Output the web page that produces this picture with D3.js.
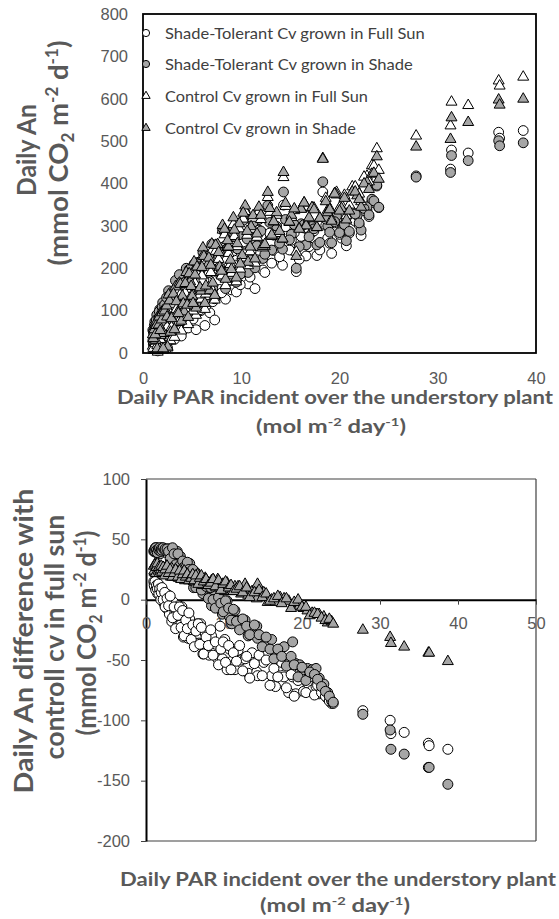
<!DOCTYPE html>
<html>
<head>
<meta charset="utf-8">
<script src="https://d3js.org/d3.v7.min.js"></script>
<style>
    body { margin: 0; background: #fff; }
    .tick text { font-family: "Liberation Sans", Arial, sans-serif; font-size: 16.5px; fill: #595959; }
    .title { font-family: Lato, "Open Sans", sans-serif; font-weight: bold; fill: #595959; }
    .legend text { font-family: Lato, "Open Sans", sans-serif; fill: #404040; }
</style>
</head>
<body>
<svg id="chart" width="559" height="919"></svg>
<script>
// daily PAR incident over the understory plant (mol m-2 day-1), one value per day
const par = [1.0,1.1,1.2,1.3,1.4,1.5,1.7,1.8,2.0,2.1, 2.3,2.5,2.6,2.8,3.0,3.2,3.3,3.5,3.7,3.9,
    4.0,4.2,4.4,4.6,4.8,5.0,5.2,5.4,5.6,5.9, 6.1,6.3,6.6,6.8,7.0,7.3,7.6,7.8,8.1,8.4,
    8.7,9.0,9.2,9.5,9.8,10.1,10.4,10.7,11.0,11.4, 11.8,12.2,12.7,13.1,13.6,14.2,14.3,15.1,15.6,16.1,
    16.6,17.2,17.7,18.3,18.8,19.2,19.7,20.2,20.7,21.3, 21.8,22.2,22.8,23.3,23.8,
    1.05,1.15,1.25,1.35,1.45,1.6,1.65,1.75,1.9,1.95, 2.05,2.2,2.4,2.45,2.7,2.9,3.1,3.4,3.6,3.8,
    4.1,4.3,4.5,4.7,4.9,5.1,5.3,5.5,5.8,6.0, 6.2,6.4,6.7,6.9,7.1,7.4,7.7,8.0,8.3,8.6,
    8.9,9.3,9.6,9.9,10.2,10.6,10.9,11.2,11.6,12.0, 12.4,12.9,13.3,13.9,14.5,14.9,15.4,15.9,16.4,16.9,
    17.4,18.0,18.6,19.0,19.5,20.0,20.5,21.0,21.6,22.0, 22.5,23.0,23.5,24.0,
    27.8,31.3,31.4,33.1,36.2,36.3,38.7];

// daily An (mmol CO2 m-2 d-1)
const anStSun = [29,15,46,15,61,5,73,21,76,26, 71,12,101,31,88,32,111,71,134,40,
    88,73,143,59,115,103,168,55,168,100, 203,65,167,95,219,78,209,150,242,127,
    194,149,252,144,242,189,274,163,239,152, 290,196,316,212,279,207,349,266,192,275,
    229,285,230,380,271,235,316,271,253,315, 310,277,337,358,394,
    21,40,28,49,25,54,62,39,52,72, 15,71,96,53,95,53,116,86,64,112,
    83,133,72,156,102,80,138,175,102,159, 172,111,190,151,121,193,188,142,252,201,
    172,219,208,161,262,238,179,272,220,275, 190,283,242,227,298,243,284,221,295,251,
    288,243,301,259,307,280,293,283,311,302, 336,322,355,343,
    418,434,479,472,521,507,525];
const anStShade = [54,44,74,44,90,20,103,54,119,60, 116,40,147,69,142,70,171,103,185,80,
    150,101,200,93,169,148,210,113,214,142, 237,124,202,141,257,128,249,203,290,152,
    241,186,295,167,279,217,331,190,270,201, 315,223,348,243,299,245,380,280,200,305,
    255,299,255,404,300,260,323,289,265,332, 325,290,345,363,396,
    50,65,63,78,55,83,98,73,92,108, 46,114,131,101,136,98,147,144,108,165,
    134,167,117,197,159,118,193,211,151,205, 227,147,229,202,152,255,230,181,287,247,
    200,275,246,186,313,269,220,308,253,288, 233,308,278,259,315,267,303,251,303,274,
    293,261,316,285,310,284,303,287,328,307, 341,326,359,344,
    415,426,466,454,501,489,496];
const anCtrlSun = [14,4,31,5,47,0,63,16,76,18, 74,10,108,27,100,35,129,73,145,50,
    110,78,164,65,146,117,192,87,184,125, 227,101,187,131,239,123,237,188,288,157,
    233,186,301,166,291,222,332,204,290,210, 332,246,365,273,323,267,412,318,236,338,
    301,340,294,457,335,313,377,347,322,390, 382,355,415,440,480,
    9,25,20,37,16,41,57,30,52,66, 5,71,90,59,94,58,113,101,70,136,
    96,139,95,165,132,97,162,186,135,180, 211,137,210,188,144,238,219,180,277,247,
    207,273,249,196,314,276,237,316,271,313, 249,330,307,280,344,306,334,292,352,315,
    340,316,363,339,374,340,370,347,390,373, 413,402,439,429,
    510,534,590,582,640,628,649];
const anCtrlShade = [41,26,60,28,73,4,90,39,97,44, 99,12,135,47,123,53,154,93,163,73,
    132,95,188,82,166,132,213,104,199,144, 246,115,207,145,255,134,254,201,299,172,
    248,195,317,175,303,228,345,212,296,220, 342,250,377,276,329,267,424,323,226,337,
    298,341,294,455,329,309,371,339,312,378, 369,342,400,420,461,
    32,53,41,63,8,64,83,51,76,93, 8,97,109,83,121,79,137,119,91,160,
    114,162,111,185,155,115,182,201,152,200, 226,156,222,205,163,252,235,191,290,263,
    217,288,256,208,328,285,248,322,279,323, 254,339,308,285,351,307,338,290,352,317,
    336,316,355,336,373,333,363,333,378,360, 397,384,422,408,
    484,502,553,542,595,583,597];

// daily An difference with control cv in full sun
const diffStSun = [15,11,15,10,14,5,10,5,0,8, -3,5,-7,4,-12,-3,-18,-2,-11,-10,
    -22,-5,-21,-6,-31,-14,-24,-32,-16,-25, -24,-36,-20,-36,-20,-45,-28,-38,-46,-30,
    -39,-37,-49,-22,-49,-33,-58,-41,-51,-58, -42,-50,-49,-61,-44,-60,-63,-52,-44,-63,
    -72,-55,-64,-77,-64,-78,-61,-76,-69,-75, -72,-78,-78,-82,-86,
    12,15,8,12,9,13,5,9,0,6, 10,0,6,-6,1,-5,3,-15,-6,-24,
    -13,-6,-23,-9,-30,-17,-24,-11,-33,-21, -39,-26,-20,-37,-23,-45,-31,-38,-25,-46,
    -35,-54,-41,-35,-52,-38,-58,-44,-51,-38, -59,-47,-65,-53,-46,-63,-50,-71,-57,-64,
    -52,-73,-62,-80,-67,-60,-77,-64,-79,-71, -77,-80,-84,-86,
    -92,-100,-111,-110,-119,-121,-124];
const diffStShade = [40,40,43,39,43,41,40,38,43,42, 42,41,39,42,42,35,42,30,40,30,
    40,23,36,28,23,31,18,26,30,17, 10,23,15,10,18,5,12,15,2,-5,
    8,0,-6,1,-12,-5,-1,-14,-20,-9, -17,-23,-17,-30,-24,-22,-32,-38,-36,-33,
    -46,-41,-39,-53,-35,-53,-54,-58,-57,-58, -57,-65,-70,-77,-84,
    41,40,43,41,39,42,41,43,40,42, 41,43,41,42,42,40,34,43,38,29,
    38,28,22,32,27,21,31,25,16,25, 16,10,19,14,8,17,11,1,10,0,
    -7,2,-3,-10,-1,-7,-17,-8,-18,-25, -16,-22,-29,-21,-29,-39,-31,-41,-49,-41,
    -47,-55,-47,-54,-64,-56,-67,-60,-62,-66, -72,-76,-80,-85,
    -95,-108,-124,-128,-139,-139,-153];
const diffCtrlShade = [27,22,29,23,26,21,27,23,21,26, 25,20,27,20,23,18,25,20,18,23,
    22,17,24,17,20,15,21,17,15,19, 19,14,20,14,16,11,17,13,11,15,
    15,9,16,9,12,6,13,8,6,10, 10,4,12,3,6,0,12,5,-3,-1,
    -3,1,0,-2,-6,-4,-6,-8,-10,-12, -13,-13,-15,-20,-19,
    23,28,21,26,29,23,26,21,24,27, 22,26,19,24,27,21,24,18,21,24,
    18,23,16,20,23,18,20,15,17,20, 15,19,12,17,19,14,16,11,13,16,
    10,15,7,12,14,9,11,6,8,10, 5,9,1,5,7,1,4,-2,0,2,
    -4,0,-8,-3,-1,-7,-7,-14,-12,-13, -16,-18,-17,-21,
    -26,-32,-37,-40,-45,-45,-52];

const legendLabels = ["Shade-Tolerant Cv grown in Full Sun", "Shade-Tolerant Cv grown in Shade",
    "Control Cv grown in Full Sun", "Control Cv grown in Shade"];
const topXTicks = [0, 10, 20, 30, 40];
const topYTicks = [0, 100, 200, 300, 400, 500, 600, 700, 800];
const botXTicks = [0, 10, 20, 30, 40, 50];
const botYTicks = [-200, -150, -100, -50, 0, 50, 100];

const GREY = "#a6a6a6";
const svg = d3.select("#chart");

// text with super/subscripts: parts = [[string, "sup"|"sub"|null], ...]
function richText(parent, parts, size) {
    const t = parent.append("text").attr("class", "title")
        .attr("text-anchor", "middle").style("font-size", size + "px");
    let shift = 0;
    parts.forEach(([s, kind]) => {
        const want = kind === "sup" ? -size * 0.38 : kind === "sub" ? size * 0.22 : 0;
        t.append("tspan").attr("dy", want - shift)
            .style("font-size", kind ? (size * 0.62) + "px" : null)
            .text(s);
        shift = want;
    });
    return t;
}

function place(t, x, y, rot, width, ky = 1) {
    let k = 1;
    if (width) k = width / t.node().getComputedTextLength();
    t.attr("transform", `translate(${x},${y}) rotate(${rot}) scale(${k},${ky})`);
}

function drawSeries(g, x, y, ys, shape, filled, size) {
    const pts = par.map((p, i) => [p, ys[i]]);
    const fill = filled ? GREY : "#fff";
    if (shape === "circle") {
        g.append("g").selectAll("circle").data(pts).join("circle")
            .attr("cx", d => x(d[0])).attr("cy", d => y(d[1]))
            .attr("r", size).attr("fill", fill).attr("stroke", "#000").attr("stroke-width", 1);
    } else {
        const tri = d3.symbol(d3.symbolTriangle, size)();
        g.append("g").selectAll("path").data(pts).join("path")
            .attr("transform", d => `translate(${x(d[0])},${y(d[1]) - 1})`)
            .attr("d", tri).attr("fill", fill).attr("stroke", "#000").attr("stroke-width", 1);
    }
}

// ---------- top panel ----------
const p1 = {left: 143, right: 536, top: 14, bottom: 353};
const x1 = d3.scaleLinear().domain([0, 40]).range([p1.left, p1.right]);
const y1 = d3.scaleLinear().domain([0, 800]).range([p1.bottom, p1.top]);

svg.append("g").attr("transform", `translate(${p1.left},0)`)
    .call(d3.axisLeft(y1).tickValues(topYTicks).tickFormat(d => d).tickSize(0).tickPadding(15))
    .call(g => g.select(".domain").remove());
svg.append("g").attr("transform", `translate(0,${p1.bottom})`)
    .call(d3.axisBottom(x1).tickValues(topXTicks).tickFormat(d => d).tickSize(0).tickPadding(19))
    .call(g => g.select(".domain").remove());

const pts1 = svg.append("g");
drawSeries(pts1, x1, y1, anStSun, "circle", false, 4.9);
drawSeries(pts1, x1, y1, anStShade, "circle", true, 4.9);
drawSeries(pts1, x1, y1, anCtrlSun, "triangle", false, 52);
drawSeries(pts1, x1, y1, anCtrlShade, "triangle", true, 52);

svg.append("rect").attr("x", p1.left).attr("y", p1.top)
    .attr("width", p1.right - p1.left).attr("height", p1.bottom - p1.top)
    .attr("fill", "none").attr("stroke", "#000").attr("stroke-width", 1.8);

// legend
const legendRows = [33, 64, 96, 128];
const legendWidths = [260, 248, 203, 191];
const leg = svg.append("g").attr("class", "legend");
legendLabels.forEach((lab, i) => {
    const cy = legendRows[i];
    const filled = i % 2 === 1;
    if (i < 2) {
        leg.append("circle").attr("cx", 146).attr("cy", cy).attr("r", 3.6)
            .attr("fill", filled ? GREY : "#fff").attr("stroke", "#000");
    } else {
        leg.append("path").attr("d", d3.symbol(d3.symbolTriangle, 30)())
            .attr("transform", `translate(146,${cy})`)
            .attr("fill", filled ? GREY : "#fff").attr("stroke", "#000");
    }
    const t = leg.append("text").attr("x", 0).attr("y", 0).attr("dy", "0.36em")
        .style("font-size", "15.5px").text(lab);
    place(t, 165, cy, 0, legendWidths[i]);
});

// titles
let t = richText(svg, [["Daily PAR incident over the understory plant"]], 18.5);
place(t, 335, 404, 0, 436);
t = richText(svg, [["(mol m"], ["-2", "sup"], [" day"], ["-1", "sup"], [")"]], 18.5);
place(t, 331, 433, 0, 150);
t = richText(svg, [["Daily An"]], 24);
place(t, 36, 150, -90, 92, 1.1);
t = richText(svg, [["(mmol CO"], ["2", "sub"], [" m"], ["-2", "sup"], [" d"], ["-1", "sup"], [")"]], 24);
place(t, 68, 153, -90, 225, 1.1);

// ---------- bottom panel ----------
const p2 = {left: 146, right: 536, top: 479, bottom: 841};
const x2 = d3.scaleLinear().domain([0, 50]).range([p2.left, p2.right]);
const y2 = d3.scaleLinear().domain([-200, 100]).range([p2.bottom, p2.top]);

const frame = svg.append("g").attr("fill", "none").attr("stroke", "#404040").attr("stroke-width", 1.2);
frame.append("line").attr("x1", p2.left).attr("x2", p2.right).attr("y1", p2.top).attr("y2", p2.top);
frame.append("line").attr("x1", p2.right).attr("x2", p2.right).attr("y1", p2.top).attr("y2", p2.bottom);
frame.append("line").attr("x1", p2.left).attr("x2", p2.right).attr("y1", p2.bottom).attr("y2", p2.bottom);

svg.append("g").attr("transform", `translate(${p2.left},0)`)
    .call(d3.axisLeft(y2).tickValues(botYTicks).tickFormat(d => d).tickSizeInner(5).tickSizeOuter(0).tickPadding(11))
    .call(g => g.select(".domain").attr("stroke", "#000").attr("stroke-width", 2))
    .call(g => g.selectAll(".tick line").attr("stroke", "#404040"));
svg.append("g").attr("transform", `translate(0,${y2(0)})`)
    .call(d3.axisBottom(x2).tickValues(botXTicks).tickFormat(d => d).tickSizeInner(5).tickSizeOuter(0).tickPadding(13))
    .call(g => g.select(".domain").attr("stroke", "#000").attr("stroke-width", 2))
    .call(g => g.selectAll(".tick line").attr("stroke", "#404040"));

const pts2 = svg.append("g");
drawSeries(pts2, x2, y2, diffStSun, "circle", false, 5);
drawSeries(pts2, x2, y2, diffStShade, "circle", true, 5);
drawSeries(pts2, x2, y2, diffCtrlShade, "triangle", true, 52);

t = richText(svg, [["Daily PAR incident over the understory plant"]], 18.5);
place(t, 338, 886, 0, 436);
t = richText(svg, [["(mol m"], ["-2", "sup"], [" day"], ["-1", "sup"], [")"]], 18.5);
place(t, 335, 912, 0, 150);
t = richText(svg, [["Daily An difference with"]], 24);
place(t, 33, 641, -90, 305, 1.1);
t = richText(svg, [["controll cv in full sun"]], 24);
place(t, 64, 637, -90, 245, 1.1);
t = richText(svg, [["(mmol CO"], ["2", "sub"], [" m"], ["-2", "sup"], [" d"], ["-1", "sup"], [")"]], 24);
place(t, 96, 633, -90, 205, 1.1);
</script>
</body>
</html>
